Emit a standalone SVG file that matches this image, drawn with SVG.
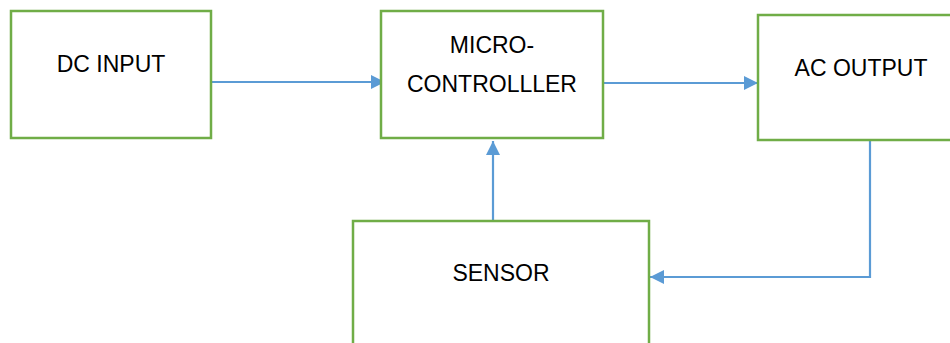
<svg xmlns="http://www.w3.org/2000/svg" width="950" height="343" viewBox="0 0 950 343">
<defs>
<marker id="ah" markerUnits="userSpaceOnUse" markerWidth="16" markerHeight="16" viewBox="0 0 16 16" refX="15" refY="8" orient="auto">
<path d="M1,1 L15,8 L1,15 Z" fill="#5B9BD5"/>
</marker>
</defs>
<style>
.box{fill:#fff;stroke:#70AD47;stroke-width:2.5}
.lbl{font-family:"Liberation Sans",Arial,sans-serif;font-size:23px;fill:#000;text-anchor:middle}
.conn{fill:none;stroke:#5B9BD5;stroke-width:2.2;marker-end:url(#ah)}
</style>
<rect width="950" height="343" fill="#fff"/>
<g id="connectors">
<path class="conn" d="M211,82 L385,82"/>
<path class="conn" d="M603,83 L758,83"/>
<path class="conn" d="M493,221 L493,141"/>
<path class="conn" d="M870,140 L870,277 L650,277"/>
</g>
<g id="dc-input">
<rect class="box" x="11" y="11" width="200" height="127"/>
<text class="lbl" x="111" y="72">DC INPUT</text>
</g>
<g id="microcontroller">
<rect class="box" x="381" y="11" width="222" height="127"/>
<text class="lbl" x="492" y="53">MICRO-</text>
<text class="lbl" x="492" y="92">CONTROLLLER</text>
</g>
<g id="ac-output">
<rect class="box" x="758" y="15" width="204" height="125"/>
<text class="lbl" x="861" y="76">AC OUTPUT</text>
</g>
<g id="sensor">
<rect class="box" x="353" y="221" width="296" height="130"/>
<text class="lbl" x="501" y="281">SENSOR</text>
</g>
</svg>
